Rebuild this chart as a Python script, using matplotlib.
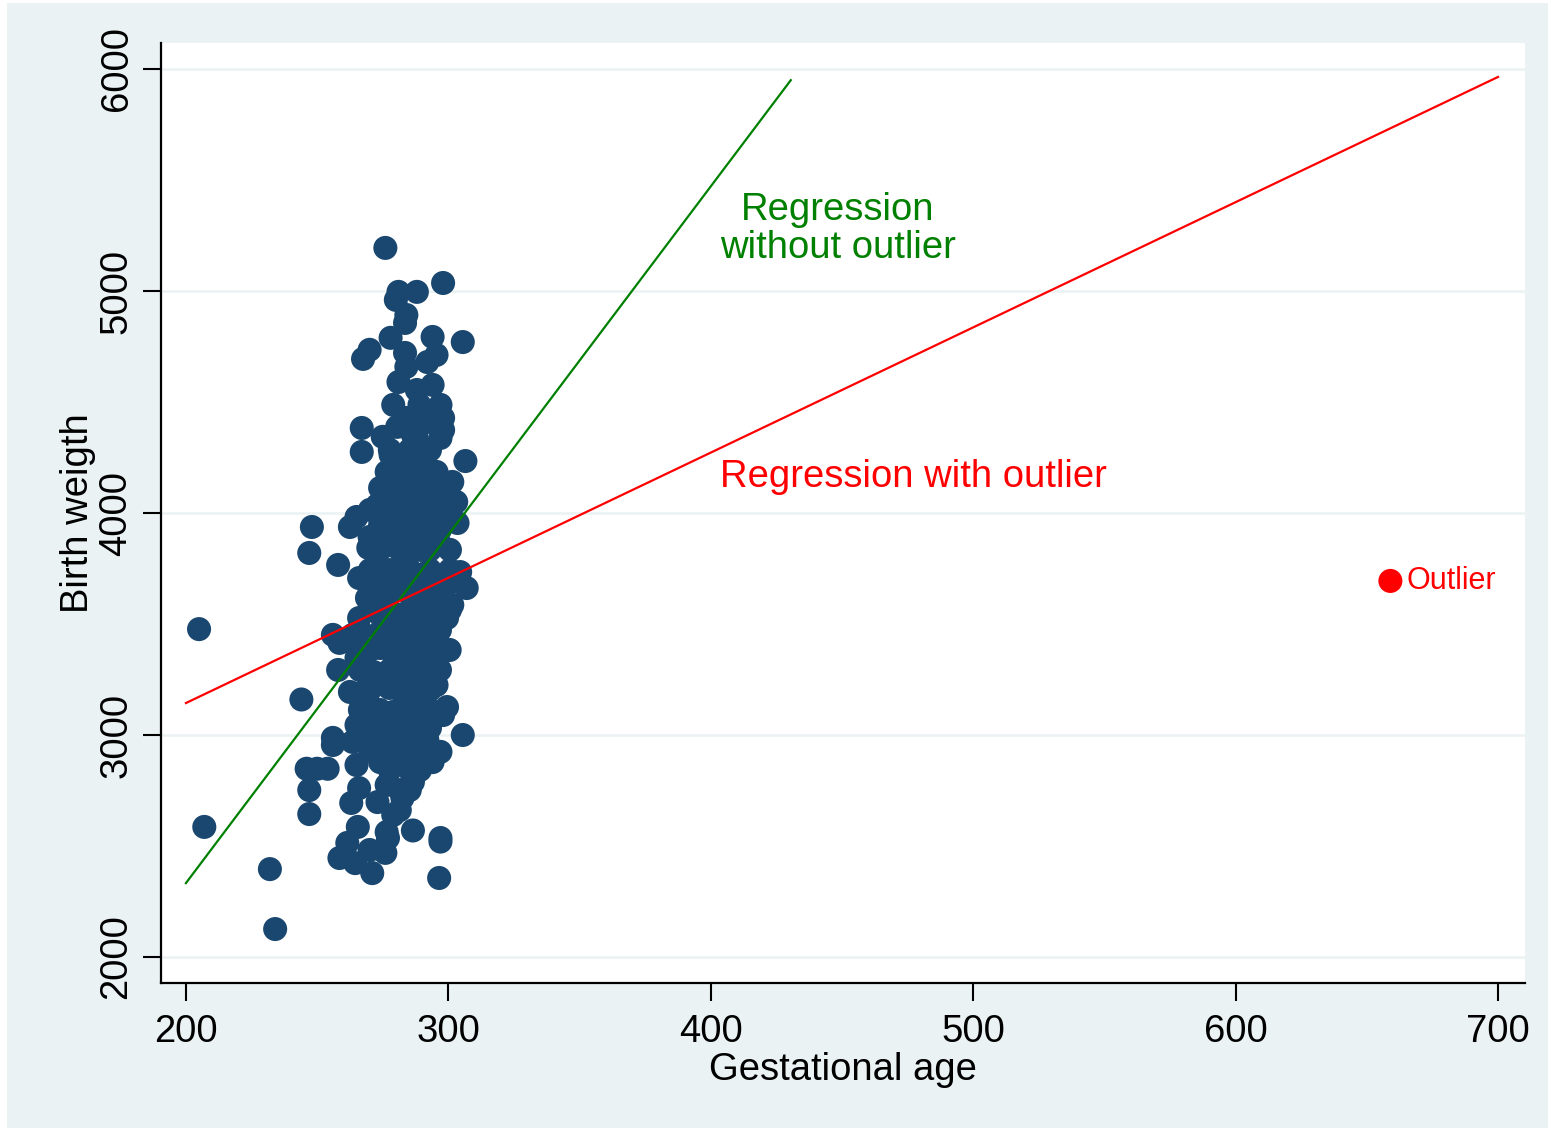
import matplotlib
matplotlib.use("Agg")
import matplotlib.pyplot as plt
from matplotlib.patches import Rectangle
import numpy as np

# Gestational age (days) and birth weight (g) of the observed births
gest_age = [
    # sparse edge of the cloud
    205, 207, 232, 234, 244, 248, 247, 258, 276, 298, 305.5, 306.5, 305.5, 297, 296.5,
    286.5, 247, 247, 246, 250, 254, 267.5, 270, 267, 267,
    281, 288, 280, 284, 283.5, 278, 294,
    283.5, 295.5, 292, 284, 281, 294, 288, 279, 289, 297, 298, 292, 284, 280.5, 275,
    286.5, 298,
    288, 297, 278, 290, 276.5, 286.5, 295.5, 301.5, 274, 281.5, 290, 298, 303, 273,
    280.5, 289, 297, 265, 262.5, 274, 282.5, 292, 303.5, 270, 279, 288, 295.5,
    269.5, 277.5, 286.5, 297, 266, 274, 282.5, 292, 304.5, 307, 299.5, 269, 276.5,
    286.5, 293, 301.5, 266, 274, 282.5, 292, 299.5, 256, 263.5, 274, 284, 294,
    258.5, 263.5, 258, 265, 262.5, 274, 284, 294, 300.5, 271.5, 281.5, 292, 295.5,
    267.5, 277.5, 286.5, 299.5, 298, 270, 279, 288, 265, 274, 284, 293, 256,
    256, 263.5, 273, 281.5, 292, 297, 265, 274, 282.5, 294, 266, 276.5, 286.5,
    263, 273, 282.5, 279, 265.5, 276.5, 297,
    261.5, 277, 258.5, 264.5, 270, 276, 271,
    # dense core of the cloud
    277.7, 285.3, 293,
    277.7, 281.5, 289.2, 293,
    277.7, 285.3, 293, 296.8,
    270.1, 277.7, 285.3, 293, 300.6,
    273.9, 281.5, 289.2, 296.8,
    273.9, 281.5, 289.2, 293, 300.6,
    270.1, 277.7, 285.3, 293, 300.6,
    270.1, 277.7, 281.5, 289.2, 296.8,
    270.1, 277.7, 285.3, 293, 300.6,
    266.3, 277.7, 281.5, 289.2, 296.8,
    266.3, 270.1, 277.7, 289.2, 296.8,
    266.3, 277.7, 285.3, 289.2, 296.8,
    270.1, 281.5, 289.2, 293,
    266.3, 273.9, 281.5, 285.3, 293,
    270.1, 277.7, 285.3, 289.2,
    270.1, 277.7, 285.3, 289.2,
    277.7, 285.3, 289.2,
    281.5, 285.3,
    281.5,
]
birth_weight = [
    3477, 2586, 2396, 2126, 3160, 3937, 3820, 3766, 5194, 5036, 4770, 4234, 3000, 2520, 2356,
    2570, 2752, 2644, 2848, 2848, 2848, 4694, 4735, 4383, 4275,
    4996, 4996, 4960, 4892, 4856, 4789, 4793,
    4721, 4712, 4680, 4658, 4590, 4577, 4554, 4487, 4487, 4487, 4428, 4410, 4428, 4388, 4343,
    4352, 4374,
    4338, 4338, 4262, 4262, 4185, 4185, 4185, 4140, 4113, 4113, 4113, 4081, 4050, 4036,
    4036, 4027, 4005, 3982, 3937, 3946, 3946, 3946, 3955, 3892, 3892, 3892, 3901,
    3843, 3856, 3843, 3856, 3707, 3734, 3752, 3734, 3734, 3662, 3676, 3617, 3631,
    3644, 3599, 3586, 3527, 3541, 3541, 3541, 3527, 3451, 3451, 3464, 3464, 3482,
    3415, 3437, 3293, 3347, 3194, 3392, 3392, 3406, 3383, 3284, 3302, 3302, 3225,
    3194, 3212, 3194, 3126, 3090, 3104, 3104, 3104, 3045, 3045, 3045, 3032, 2987,
    2955, 2969, 2987, 2969, 2978, 2924, 2865, 2878, 2897, 2878, 2761, 2775, 2788,
    2694, 2698, 2716, 2640, 2586, 2563, 2536,
    2514, 2536, 2446, 2423, 2482, 2469, 2378,
    4284, 4284, 4284,
    4194, 4194, 4194, 4194,
    4104, 4104, 4104, 4104,
    4014, 4014, 4014, 4014, 4014,
    3924, 3924, 3924, 3924,
    3834, 3834, 3834, 3834, 3834,
    3743, 3743, 3743, 3743, 3743,
    3653, 3653, 3653, 3653, 3653,
    3563, 3563, 3563, 3563, 3563,
    3473, 3473, 3473, 3473, 3473,
    3383, 3383, 3383, 3383, 3383,
    3293, 3293, 3293, 3293, 3293,
    3203, 3203, 3203, 3203,
    3113, 3113, 3113, 3113, 3113,
    3023, 3023, 3023, 3023,
    2933, 2933, 2933, 2933,
    2842, 2842, 2842,
    2752, 2752,
    2662,
]

# The single extreme observation
outlier_age = [659]
outlier_weight = [3694]

# Fitted lines: weight = intercept + slope * age
fit_without = {"intercept": -805.0, "slope": 15.69, "x_range": (200, 430.5)}
fit_with = {"intercept": 2016.0, "slope": 5.64, "x_range": (200, 700)}

x_ticks = [200, 300, 400, 500, 600, 700]
y_ticks = [2000, 3000, 4000, 5000, 6000]

NAVY = "#1A476F"
BG = "#EAF2F3"
FONT = ["Liberation Sans", "DejaVu Sans"]
plt.rcParams["font.family"] = FONT

W, H = 1551, 1131
fig = plt.figure(figsize=(W / 100, H / 100), dpi=100, facecolor="white")
fig.patches.append(Rectangle((7 / W, 3 / H), (1548 - 7) / W, (1128 - 3) / H,
                             transform=fig.transFigure, facecolor=BG,
                             edgecolor="none", zorder=-10))

ax = fig.add_axes([161 / W, 1 - 983 / H, (1525 - 161) / W, (983 - 43) / H])
ax.set_zorder(5)
ax.set_facecolor("white")
ax.set_xlim(190.5, 710.3)
ax.set_ylim(1883, 6117)

for side in ("top", "right"):
    ax.spines[side].set_visible(False)
for side in ("left", "bottom"):
    ax.spines[side].set_linewidth(1.6)
    ax.spines[side].set_color("black")

ax.set_xticks(x_ticks)
ax.set_yticks(y_ticks)
ax.set_xticklabels([str(t) for t in x_ticks])
ax.set_yticklabels([str(t) for t in y_ticks], rotation=90, va="center")
ax.tick_params(axis="both", direction="out", length=13, width=1.5,
               labelsize=27.5, colors="black")
ax.tick_params(axis="x", pad=9)
ax.tick_params(axis="y", pad=6)
ax.yaxis.grid(True, color=BG, linewidth=1.8)
ax.set_axisbelow(True)

ax.scatter(gest_age, birth_weight, s=300, color=NAVY, edgecolors="none",
           zorder=2)

for fit, col in ((fit_without, "#008000"), (fit_with, "#FF0000")):
    xs = np.array(fit["x_range"])
    ax.plot(xs, fit["intercept"] + fit["slope"] * xs, color=col,
            linewidth=1.6, zorder=3)

ax.scatter(outlier_age, outlier_weight, s=300, color="#FF0000",
           edgecolors="none", zorder=3)
ax.text(665.2, outlier_weight[0], "Outlier", color="#FF0000", fontsize=22,
        ha="left", va="center")

ax.text(448.4, 5280, "Regression\nwithout outlier", color="#008000",
        fontsize=27.5, ha="center", va="center", linespacing=1.08)
ax.text(403.6, 4162, "Regression with outlier", color="#FF0000",
        fontsize=27.5, ha="left", va="center")

ax.set_xlabel("Gestational age", fontsize=27.5, labelpad=2)
ax.set_ylabel("Birth weigth", fontsize=27.5, labelpad=2)

fig.savefig("out.png", dpi=100, facecolor=fig.get_facecolor())
